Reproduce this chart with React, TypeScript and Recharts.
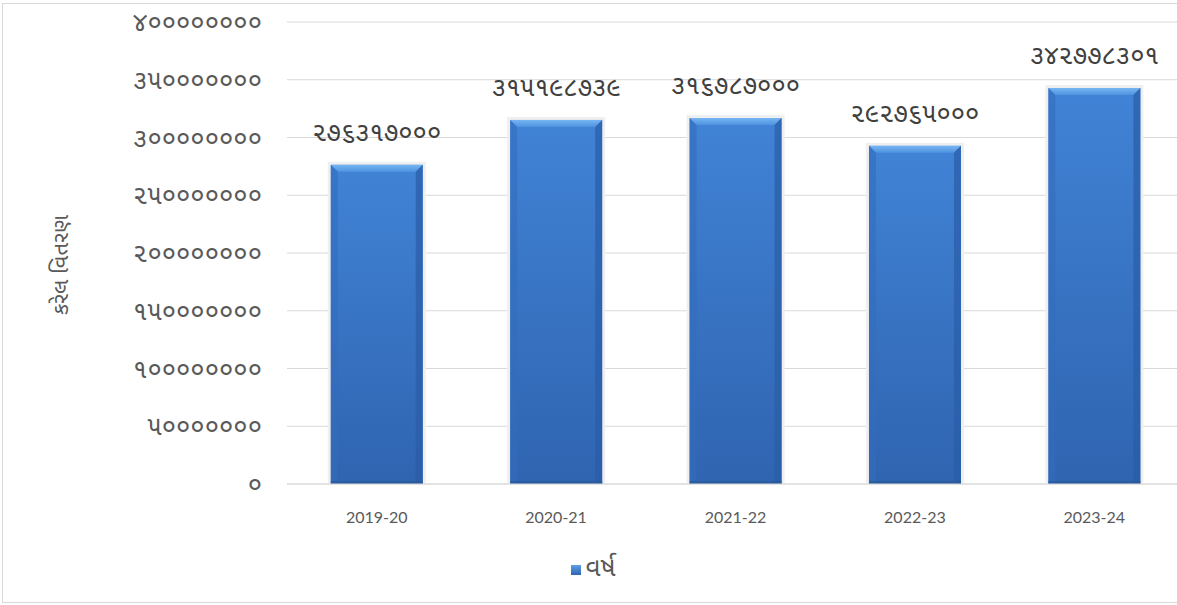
import { BarChart, Bar, XAxis, YAxis, CartesianGrid, Legend, LabelList } from "recharts";

const years = ["2019-20", "2020-21", "2021-22", "2022-23", "2023-24"];
const amounts = [276317000, 315198739, 316787000, 292765000, 342778301];
const yTicks = [0, 50000000, 100000000, 150000000, 200000000, 250000000, 300000000, 350000000, 400000000];
const seriesName = "વર્ષ";
const yTitle = "કરેલ વિતરણ";

const data = years.map((y, i) => ({ year: y, value: amounts[i] }));

// convert latin digits to gujarati digits
const toGu = (v: any) => String(v).replace(/\d/g, (d) => String.fromCharCode(0x0ae6 + Number(d)));

const guFont = "'Noto Sans Gujarati', 'Noto Sans', sans-serif";
const latinFont = "Lato, 'Open Sans', sans-serif";

function BevelBar(props: any) {
  const { x, y, width, height } = props;
  if (!height || height <= 0) return null;
  const b = 7;
  return (
    <g>
      <rect x={x - 3} y={y - 3} width={width + 6} height={height + 3} fill="#efefef" />
      <rect x={x} y={y} width={width} height={height} fill="url(#barBody)" />
      <polygon points={`${x},${y} ${x + width},${y} ${x + width - b},${y + b} ${x + b},${y + b}`} fill="url(#barTop)" />
      <polygon points={`${x},${y} ${x + b},${y + b} ${x + b},${y + height} ${x},${y + height}`} fill="#336cbc" opacity={0.6} />
      <polygon points={`${x + width},${y} ${x + width - b},${y + b} ${x + width - b},${y + height} ${x + width},${y + height}`} fill="#2a5ca6" opacity={0.7} />
      <rect x={x} y={y + height - 3} width={width} height={3} fill="#2a5598" opacity={0.6} />
    </g>
  );
}

function LegendContent() {
  return (
    <div style={{ display: "flex", justifyContent: "center", alignItems: "center", paddingLeft: 10 }}>
      <span style={{ width: 10, height: 10, display: "inline-block", background: "linear-gradient(#5c9ee6, #2f66b3)", marginRight: 4 }} />
      <span style={{ fontFamily: guFont, fontSize: 26, color: "#595959", lineHeight: "30px" }}>{seriesName}</span>
    </div>
  );
}

function YTitle(props: any) {
  const { viewBox } = props;
  const cx = viewBox.x + 22;
  const cy = viewBox.y + viewBox.height / 2 + 12;
  return (
    <text x={cx} y={cy} transform={`rotate(-90, ${cx}, ${cy})`} textAnchor="middle" dominantBaseline="central" fontSize={22} fill="#595959" fontFamily={guFont}>
      {yTitle}
    </text>
  );
}

export default function App() {
  return (
    <div style={{ position: "absolute", left: 0, top: 0, width: 1177, height: 605, overflow: "hidden", background: "#fff" }}>
      <div style={{ position: "absolute", left: 2, top: 3, width: 1210, height: 598, border: "1px solid #d9d9d9" }} />
      <div style={{ position: "absolute", left: 0, top: 0 }}>
        <BarChart width={1200} height={605} data={data} margin={{ top: 22, right: 16, left: 40, bottom: 51 }} barCategoryGap="24.4%">
          <defs>
            <linearGradient id="barBody" x1="0" y1="0" x2="0" y2="1">
              <stop offset="0%" stopColor="#4183d6" />
              <stop offset="100%" stopColor="#2f64b0" />
            </linearGradient>
            <linearGradient id="barTop" x1="0" y1="0" x2="0" y2="1">
              <stop offset="0%" stopColor="#76b5f2" />
              <stop offset="100%" stopColor="#4f93e0" />
            </linearGradient>
          </defs>
          <CartesianGrid vertical={false} stroke="#d9d9d9" strokeWidth={1} />
          <XAxis
            dataKey="year"
            height={40}
            tickLine={false}
            tickSize={0}
            tickMargin={28}
            axisLine={{ stroke: "#d9d9d9" }}
            tick={{ fontSize: 16, fill: "#595959", fontFamily: latinFont }}
          />
          <YAxis
            width={247}
            domain={[0, 400000000]}
            ticks={yTicks}
            interval={0}
            axisLine={false}
            tickLine={false}
            tickSize={0}
            tickMargin={25}
            tickFormatter={toGu}
            tick={{ fontSize: 26, fill: "#595959", fontFamily: guFont }}
            label={<YTitle />}
          />
          <Legend verticalAlign="bottom" content={<LegendContent />} wrapperStyle={{ height: 30, bottom: 20, left: 0, width: 1177 }} />
          <Bar dataKey="value" name={seriesName} shape={<BevelBar />} isAnimationActive={false}>
            <LabelList dataKey="value" position="top" offset={24} formatter={toGu} style={{ fontSize: 26, fill: "#404040", fontFamily: guFont }} />
          </Bar>
        </BarChart>
      </div>
    </div>
  );
}
